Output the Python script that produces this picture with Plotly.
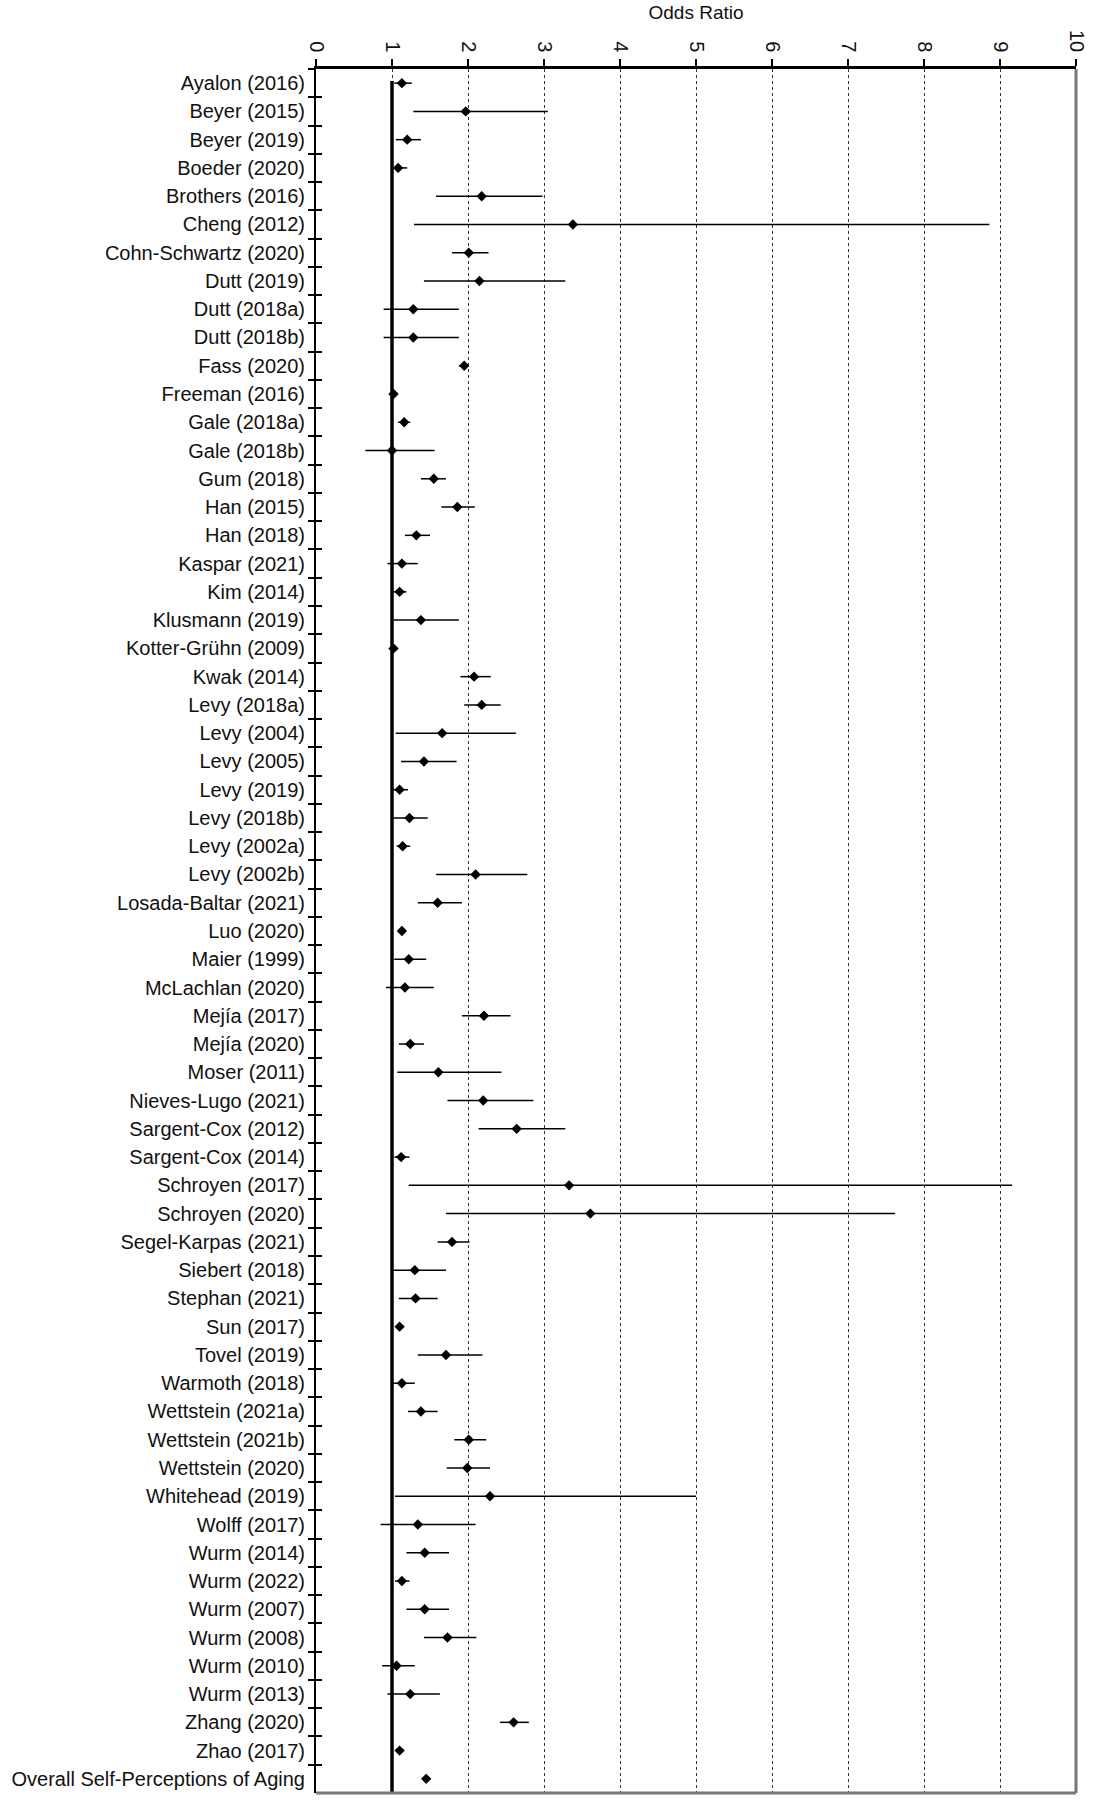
import plotly.graph_objects as go

studies = [
    "Ayalon (2016)", "Beyer (2015)", "Beyer (2019)", "Boeder (2020)", "Brothers (2016)",
    "Cheng (2012)", "Cohn-Schwartz (2020)", "Dutt (2019)", "Dutt (2018a)", "Dutt (2018b)",
    "Fass (2020)", "Freeman (2016)", "Gale (2018a)", "Gale (2018b)", "Gum (2018)",
    "Han (2015)", "Han (2018)", "Kaspar (2021)", "Kim (2014)", "Klusmann (2019)",
    "Kotter-Grühn (2009)", "Kwak (2014)", "Levy (2018a)", "Levy (2004)", "Levy (2005)",
    "Levy (2019)", "Levy (2018b)", "Levy (2002a)", "Levy (2002b)", "Losada-Baltar (2021)",
    "Luo (2020)", "Maier (1999)", "McLachlan (2020)", "Mejía (2017)", "Mejía (2020)",
    "Moser (2011)", "Nieves-Lugo (2021)", "Sargent-Cox (2012)", "Sargent-Cox (2014)", "Schroyen (2017)",
    "Schroyen (2020)", "Segel-Karpas (2021)", "Siebert (2018)", "Stephan (2021)", "Sun (2017)",
    "Tovel (2019)", "Warmoth (2018)", "Wettstein (2021a)", "Wettstein (2021b)", "Wettstein (2020)",
    "Whitehead (2019)", "Wolff (2017)", "Wurm (2014)", "Wurm (2022)", "Wurm (2007)",
    "Wurm (2008)", "Wurm (2010)", "Wurm (2013)", "Zhang (2020)", "Zhao (2017)",
    "Overall Self-Perceptions of Aging",
]

odds_ratio = [
    1.13, 1.97, 1.20, 1.08, 2.18,
    3.38, 2.01, 2.15, 1.28, 1.28,
    1.95, 1.02, 1.16, 1.00, 1.55,
    1.86, 1.32, 1.13, 1.10, 1.38,
    1.02, 2.08, 2.18, 1.66, 1.42,
    1.10, 1.23, 1.14, 2.10, 1.60,
    1.13, 1.22, 1.17, 2.21, 1.24,
    1.61, 2.20, 2.64, 1.12, 3.33,
    3.61, 1.79, 1.30, 1.31, 1.10,
    1.71, 1.13, 1.38, 2.01, 1.99,
    2.29, 1.34, 1.43, 1.13, 1.43,
    1.73, 1.06, 1.24, 2.60, 1.10,
    1.45,
]

ci_lower = [
    1.03, 1.28, 1.05, 1.01, 1.58,
    1.29, 1.79, 1.42, 0.89, 0.89,
    1.88, 0.99, 1.08, 0.65, 1.38,
    1.65, 1.17, 0.94, 1.02, 1.02,
    0.99, 1.90, 1.95, 1.05, 1.12,
    1.01, 1.02, 1.06, 1.58, 1.34,
    1.08, 1.03, 0.92, 1.92, 1.09,
    1.07, 1.73, 2.14, 1.03, 1.22,
    1.71, 1.60, 1.01, 1.09, 1.06,
    1.34, 1.00, 1.21, 1.82, 1.72,
    1.04, 0.85, 1.19, 1.04, 1.19,
    1.42, 0.87, 0.94, 2.42, 1.06,
    1.40,
]

ci_upper = [
    1.26, 3.05, 1.38, 1.20, 2.98,
    8.86, 2.27, 3.28, 1.88, 1.88,
    2.01, 1.04, 1.24, 1.56, 1.71,
    2.09, 1.50, 1.34, 1.19, 1.88,
    1.05, 2.30, 2.43, 2.63, 1.85,
    1.21, 1.47, 1.24, 2.78, 1.92,
    1.17, 1.45, 1.55, 2.56, 1.42,
    2.44, 2.86, 3.28, 1.23, 9.16,
    7.62, 2.02, 1.71, 1.60, 1.14,
    2.19, 1.30, 1.60, 2.24, 2.29,
    5.00, 2.10, 1.75, 1.23, 1.75,
    2.11, 1.30, 1.63, 2.80, 1.14,
    1.50,
]

x_ticks = [0, 1, 2, 3, 4, 5, 6, 7, 8, 9, 10]

err_plus = [u - o for u, o in zip(ci_upper, odds_ratio)]
err_minus = [o - l for o, l in zip(odds_ratio, ci_lower)]

FONT = "Liberation Sans, Arial, sans-serif"

fig = go.Figure()
fig.add_trace(go.Scatter(
    x=odds_ratio, y=studies, mode="markers",
    marker=dict(symbol="diamond", size=8, color="black"),
    error_x=dict(type="data", symmetric=False, array=err_plus, arrayminus=err_minus,
                 width=0, thickness=1.5, color="black"),
    showlegend=False, hoverinfo="x+y",
))
# invisible companion trace for the inner tick marks axis
fig.add_trace(go.Scatter(
    x=odds_ratio, y=studies, mode="markers", yaxis="y2",
    marker=dict(size=1, opacity=0), showlegend=False, hoverinfo="skip",
))

n = len(studies)
fig.update_layout(
    width=1095, height=1800,
    margin=dict(l=316, r=16, t=69, b=7),
    paper_bgcolor="white", plot_bgcolor="white",
    font=dict(family=FONT, size=20, color="#111"),
    xaxis=dict(
        side="top", range=[0, 10], tickvals=x_ticks, ticktext=[str(t) for t in x_ticks],
        tickangle=90, ticks="outside", ticklen=7, tickcolor="black", tickwidth=1.5,
        showline=True, linecolor="black", linewidth=2.5,
        showgrid=True, gridcolor="#333", gridwidth=1, griddash="dot",
        zeroline=False, tickfont=dict(size=20),
        title=dict(text="Odds Ratio", font=dict(size=19), standoff=6),
    ),
    yaxis=dict(
        type="category", categoryarray=studies, categoryorder="array",
        range=[n - 0.5, -0.5], showgrid=False, zeroline=False,
        showline=True, linecolor="black", linewidth=2,
        ticks="outside", tickson="boundaries", ticklen=6, tickcolor="black", tickwidth=1.5,
        tickfont=dict(size=20), ticklabelstandoff=5,
    ),
    yaxis2=dict(
        type="category", categoryarray=studies, categoryorder="array",
        range=[n - 0.5, -0.5], overlaying="y", side="left", matches="y",
        showticklabels=False, showgrid=False, zeroline=False, showline=False,
        ticks="inside", tickson="boundaries", ticklen=6, tickcolor="black", tickwidth=1.5,
    ),
    shapes=[
        dict(type="line", xref="x", yref="paper", x0=1, x1=1, y0=0, y1=0.993,
             line=dict(color="black", width=3.5), layer="above"),
        dict(type="line", xref="paper", yref="paper", x0=1, x1=1, y0=0, y1=1,
             line=dict(color="#777", width=3), layer="above"),
        dict(type="line", xref="paper", yref="paper", x0=0, x1=1, y0=0, y1=0,
             line=dict(color="#777", width=3), layer="above"),
    ],
)

fig.write_html("out.html", config={"displayModeBar": False},
               post_script="document.body.style.margin='0';")
